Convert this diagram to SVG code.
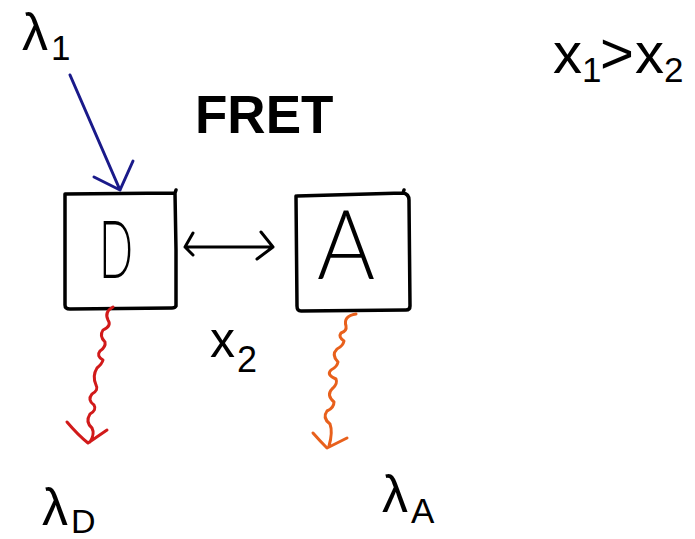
<svg xmlns="http://www.w3.org/2000/svg" width="695" height="539" viewBox="0 0 695 539">
<style>
.t{font-family:"Liberation Sans",Arial,sans-serif;fill:#000}
.hand{font-family:"Lato","Open Sans","Liberation Sans",sans-serif;font-weight:300;fill:#000}
.box{fill:none;stroke:#000;stroke-width:3.5;stroke-linecap:round;stroke-linejoin:round}
.ln{fill:none;stroke-width:3;stroke-linecap:round;stroke-linejoin:round}
</style>
<rect width="695" height="539" fill="#fff"/>
<g id="labels">
<text class="t" x="22" y="50" font-size="52">λ</text>
<text class="t" x="51" y="60" font-size="35">1</text>
<text class="t" x="195" y="133" font-size="53" font-weight="bold">FRET</text>
<text class="t" x="553" y="73" font-size="58">x</text>
<text class="t" x="582" y="82" font-size="35">1</text>
<text class="t" x="600" y="73" font-size="58">&gt;</text>
<text class="t" x="635" y="73" font-size="58">x</text>
<text class="t" x="664" y="82" font-size="35">2</text>
<text class="t" x="210" y="357" font-size="50">x</text>
<text class="t" x="237" y="372" font-size="36">2</text>
<text class="t" x="42" y="525" font-size="52">λ</text>
<text class="t" x="71" y="533" font-size="34">D</text>
<text class="t" x="382" y="512" font-size="52">λ</text>
<text class="t" x="411" y="523" font-size="35">A</text>
</g>
<g id="node-D">
<path class="box" d="M65,194 L175,193 L176,190 M175,193 L176,250 L176,306 Q175,308 172,308 L70,309 Q65,309 65,305 L65,194"/>
<text class="hand" x="99" y="278" font-size="80" textLength="34" lengthAdjust="spacingAndGlyphs">D</text>
</g>
<g id="node-A">
<path class="box" d="M297,196 L403,193 L404,190 M403,193 Q409,194 409,200 L410,306 Q410,310 406,310 L301,311 Q297,311 297,306 L296,196"/>
<text class="hand" x="317" y="279" font-size="96" textLength="58" lengthAdjust="spacingAndGlyphs">A</text>
</g>
<g id="connectors">
<path class="ln" stroke="#1a1a8a" d="M70,75 L120,190 M94,177 L120,190 L133,161"/>
<path class="ln" stroke="#000" d="M185,247 L273,247 M193,233 L185,247 L193,255 M261,232 L273,247 L257,259"/>
<path class="ln" stroke="#d11a1a" d="M113,307 Q104,312 108,320 Q112,326 103,330 Q99,336 105,342 Q106,347 100,351 Q96,356 103,360 Q102,364 97,368 Q92,376 96,385 Q99,390 92,394 Q87,400 94,405 Q97,410 90,414 Q85,422 92,428 Q95,434 90,442 M67,422 Q78,435 88,443 L107,430"/>
<path class="ln" stroke="#e8601c" d="M356,314 Q343,316 346,326 Q347,331 341,333 Q338,337 344,341 Q343,346 337,349 Q331,355 338,362 Q337,367 331,370 Q326,375 336,379 Q338,384 332,389 Q326,395 334,402 Q334,408 327,411 Q322,418 330,424 Q333,432 329,446 M313,433 Q320,441 327,448 L347,438"/>
</g>
</svg>
